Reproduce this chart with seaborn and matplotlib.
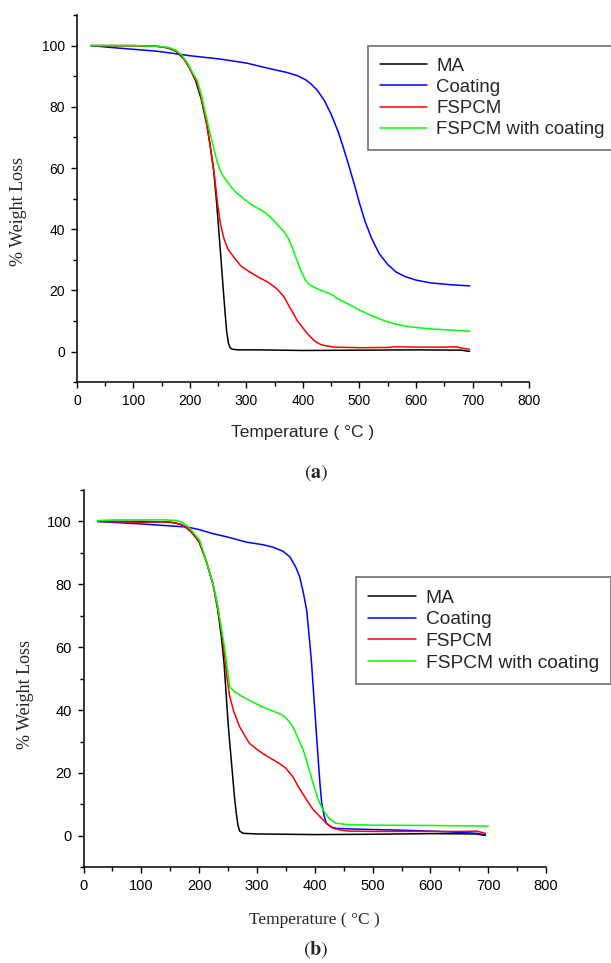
import numpy as np
import pandas as pd
import matplotlib
matplotlib.use("Agg")
import matplotlib.pyplot as plt
from matplotlib.ticker import MultipleLocator
import seaborn as sns

# ---------------- TGA data, panel (a) ----------------
ma_t_a = [25, 60, 100, 140, 160, 175, 190, 200, 210, 220, 230, 236, 242, 247, 251, 255,
          259, 262, 265, 268, 271, 275, 285, 320, 400, 500, 600, 680, 695]
ma_w_a = [100, 100, 100, 99.8, 99.3, 98.2, 95.5, 92.5, 88.5, 82.5, 74, 67, 59, 49, 39.5, 30,
          20, 13, 6.5, 2.8, 1.3, 0.8, 0.6, 0.6, 0.4, 0.5, 0.6, 0.5, 0.1]

coat_t_a = [25, 60, 100, 140, 165, 200, 254, 300, 343, 370, 390, 405, 414, 425, 438, 450,
            462, 470, 480, 490, 500, 510, 521, 535, 550, 565, 580, 600, 625, 660, 695]
coat_w_a = [100, 99.4, 98.8, 98.2, 97.6, 96.7, 95.6, 94.3, 92.4, 91.3, 90.2, 88.8, 87.5, 85.5,
            82, 77.5, 72, 67.5, 61.5, 55.2, 48.5, 42.5, 37.2, 32, 28.5, 26, 24.6, 23.4, 22.5,
            21.9, 21.5]

fs_t_a = [25, 60, 100, 140, 160, 175, 185, 195, 205, 212, 220, 228, 236, 243, 249, 254, 260,
          267, 278, 290, 307, 320, 335, 343, 352, 360, 367, 375, 383, 390, 398, 406, 414, 422,
          432, 444, 455, 500, 550, 565, 600, 650, 672, 680, 695]
fs_w_a = [100, 100, 100, 99.9, 99.3, 98.2, 96.8, 94, 90.5, 88.2, 83, 76, 67, 58, 48, 41.7, 37,
          33.5, 30.8, 28, 25.9, 24.5, 23, 22.1, 20.8, 19.3, 17.7, 15, 12.5, 10.1, 8.2, 6.3, 4.7,
          3.3, 2.3, 1.8, 1.5, 1.3, 1.4, 1.6, 1.5, 1.5, 1.6, 1.2, 0.8]

fsc_t_a = [25, 100, 140, 160, 175, 185, 195, 205, 213, 220, 225, 231, 236, 242, 248, 254, 260,
           270, 280, 295, 307, 320, 333, 343, 355, 365, 373, 380, 388, 396, 404, 412, 420, 430,
           440, 450, 460, 470, 480, 500, 520, 540, 560, 580, 600, 630, 660, 695]
fsc_w_a = [100, 100, 99.8, 99.5, 98.5, 97, 94.5, 91, 88.6, 84, 79.8, 75, 71, 66.5, 62, 59, 57,
           54.5, 52.3, 50, 48.3, 46.8, 45.5, 43.9, 41.5, 39.5, 37.4, 34.5, 30.5, 26.5, 23.5, 21.8,
           21, 20.2, 19.5, 18.8, 17.5, 16.5, 15.6, 13.6, 11.9, 10.4, 9.2, 8.4, 7.9, 7.4, 7.1, 6.7]

# ---------------- TGA data, panel (b) ----------------
ma_t_b = [25, 100, 150, 170, 185, 200, 212, 224, 232, 238, 243, 247, 250, 253, 257, 261, 264,
          267, 270, 276, 300, 400, 500, 600, 680, 695]
ma_w_b = [100, 100, 99.8, 99, 97, 93.5, 87.5, 80, 72, 64, 55, 44.2, 36, 29.4, 21, 12.5, 7.5,
          3.5, 1.5, 0.8, 0.6, 0.4, 0.5, 0.7, 0.6, 0.1]

coat_t_b = [25, 60, 100, 140, 180, 200, 224, 250, 282, 310, 328, 345, 357, 367, 374, 380, 386,
            390, 394, 397, 400, 403, 406, 409, 412, 416, 420, 428, 437, 460, 500, 550, 600, 650,
            680, 695]
coat_w_b = [100, 99.6, 99.2, 98.7, 98.2, 97.4, 96.1, 95, 93.4, 92.6, 91.8, 90.5, 88.7, 85.5,
            82.3, 77.5, 71.7, 64, 55.9, 48, 40, 32, 24.1, 16.5, 10.4, 6.5, 4, 2.8, 2.4, 2.2,
            2.0, 1.8, 1.5, 1.1, 0.8, 0.3]

fs_t_b = [25, 60, 100, 140, 160, 175, 190, 200, 212, 224, 232, 238, 243, 248, 253, 260, 270,
          280, 287, 300, 310, 325, 339, 350, 362, 372, 386, 397, 409, 420, 432, 445, 460, 500,
          600, 650, 680, 695]
fs_w_b = [100, 99.9, 99.7, 99.9, 99.5, 98.5, 96, 93.5, 87.5, 80, 73, 66, 59, 50.5, 44.2, 39.5,
          34.7, 31.5, 29.4, 27.5, 26.2, 24.5, 23, 21.5, 18.8, 15.5, 11.4, 8.4, 6.1, 4, 2.4, 1.8,
          1.5, 1.4, 1.4, 1.4, 1.5, 0.8]

fsc_t_b = [25, 60, 100, 140, 160, 170, 180, 190, 201, 212, 224, 232, 238, 243, 247, 253, 260,
           270, 290, 310, 330, 345, 355, 362, 370, 380, 388, 397, 405, 414, 425, 437, 457, 500,
           600, 700]
fsc_w_b = [100.3, 100.5, 100.5, 100.5, 100.3, 99.8, 98.5, 96.5, 94, 87.5, 80.2, 73, 66.4, 61,
           55.9, 47.4, 46, 44.8, 42.8, 41, 39.5, 38.4, 36.5, 34.7, 31.5, 27.3, 22.5, 16.7, 12,
           8.3, 5.5, 4, 3.6, 3.4, 3.3, 3.1]

samples = ["MA", "Coating", "FSPCM", "FSPCM with coating"]
colors = {"MA": "#000000", "Coating": "#0000ff", "FSPCM": "#ff0000",
          "FSPCM with coating": "#00ff00"}


def make_frame(series):
    parts = []
    for name, (t, w) in zip(samples, series):
        parts.append(pd.DataFrame({"T": t, "W": w, "Sample": name}))
    return pd.concat(parts, ignore_index=True)


df_a = make_frame([(ma_t_a, ma_w_a), (coat_t_a, coat_w_a),
                   (fs_t_a, fs_w_a), (fsc_t_a, fsc_w_a)])
df_b = make_frame([(ma_t_b, ma_w_b), (coat_t_b, coat_w_b),
                   (fs_t_b, fs_w_b), (fsc_t_b, fsc_w_b)])

sns.set_style("ticks")
plt.rcParams["font.family"] = ["Liberation Sans", "DejaVu Sans"]
plt.rcParams["mathtext.fontset"] = "stix"

fig = plt.figure(figsize=(6.11, 9.63), dpi=100)
ax_a = fig.add_axes([0.126, 0.603, 0.7398, 0.3814])
ax_b = fig.add_axes([0.1367, 0.0994, 0.757, 0.3918])


def style_axes(ax, tick_size):
    ax.set_xlim(0, 800)
    ax.set_ylim(-10, 110)
    ax.xaxis.set_major_locator(MultipleLocator(100))
    ax.xaxis.set_minor_locator(MultipleLocator(50))
    ax.set_yticks([0, 20, 40, 60, 80, 100])
    ax.set_yticks([-10, 10, 30, 50, 70, 90, 110], minor=True)
    sns.despine(ax=ax)
    for s in ("left", "bottom"):
        ax.spines[s].set_linewidth(1.1)
        ax.spines[s].set_color("black")
    ax.tick_params(which="major", direction="out", length=4.5, width=1.0,
                   labelsize=tick_size, colors="black", pad=4)
    ax.tick_params(which="minor", direction="out", length=2.8, width=1.0, colors="black")
    ax.grid(False)


for ax, df in ((ax_a, df_a), (ax_b, df_b)):
    sns.lineplot(data=df, x="T", y="W", hue="Sample", hue_order=samples,
                 palette=colors, estimator=None, sort=False, linewidth=1.1, ax=ax)

style_axes(ax_a, 10)
style_axes(ax_b, 10.5)

# axis labels
ax_a.set_xlabel("Temperature ( °C )", fontsize=12.5, fontfamily="Liberation Sans")
ax_a.xaxis.label.set_va("center")
ax_a.xaxis.set_label_coords(0.5, -0.138)
ax_a.set_ylabel("% Weight Loss", fontsize=13, fontfamily="Liberation Serif")
ax_a.yaxis.label.set_va("center")
ax_a.yaxis.set_label_coords(-0.13, 0.466)

ax_b.set_xlabel("Temperature ( °C )", fontsize=12.5, fontfamily="Liberation Serif")
ax_b.xaxis.label.set_va("center")
ax_b.xaxis.set_label_coords(0.5, -0.140)
ax_b.set_ylabel("% Weight Loss", fontsize=13, fontfamily="Liberation Serif")
ax_b.yaxis.label.set_va("center")
ax_b.yaxis.set_label_coords(-0.126, 0.457)

# legends
for ax, anchor, fsize in ((ax_a, (0.6445, 0.9164), 13.4), (ax_b, (0.5885, 0.7694), 13.8)):
    handles, labels = ax.get_legend_handles_labels()
    leg = ax.legend(handles, labels, loc="upper left", bbox_to_anchor=anchor,
                    borderaxespad=0, fontsize=fsize, frameon=True, fancybox=False,
                    framealpha=1, edgecolor="#7a7a7a", handlelength=2.5,
                    handletextpad=0.5, labelspacing=0.22, borderpad=0.65)
    leg.get_frame().set_linewidth(1.3)
    for line in leg.get_lines():
        line.set_linewidth(1.1)

# panel captions
fig.text(0.518, 0.509, r"$\mathrm{(}\mathbf{a}\mathrm{)}$", ha="center", va="center",
         fontsize=14.5)
fig.text(0.517, 0.0135, r"$\mathrm{(}\mathbf{b}\mathrm{)}$", ha="center", va="center",
         fontsize=14.5)

fig.savefig("out.png", dpi=100)
